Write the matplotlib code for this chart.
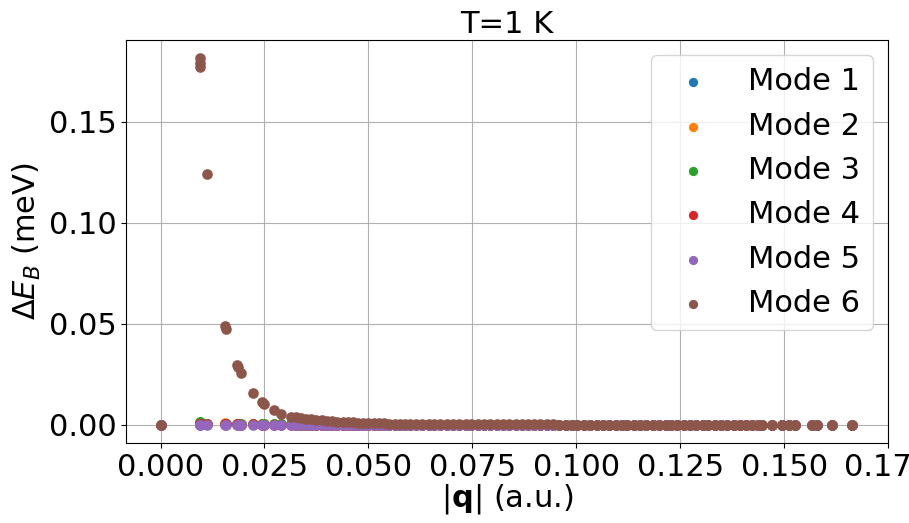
import matplotlib
matplotlib.use('Agg')
import matplotlib.pyplot as plt

# |q| точки (a.u.)
q_head = [0.0000, 0.0094, 0.0095, 0.0096, 0.0111, 0.0156, 0.0158, 0.0183,
          0.0187, 0.0193, 0.0222, 0.0243, 0.0249, 0.0272, 0.0289, 0.0313]
q_band = [0.0325, 0.0338, 0.0350, 0.0362, 0.0375, 0.0388, 0.0400, 0.0413,
          0.0425, 0.0438, 0.0450, 0.0463, 0.0475, 0.0488, 0.0500, 0.0513,
          0.0525, 0.0538, 0.0550, 0.0563, 0.0575, 0.0588, 0.0600,
          0.0614, 0.0628, 0.0645, 0.0659, 0.0673, 0.0690, 0.0704, 0.0719,
          0.0735, 0.0748, 0.0764, 0.0779, 0.0793, 0.0810, 0.0824, 0.0838,
          0.0855, 0.0869, 0.0884, 0.0899, 0.0913, 0.0930, 0.0944, 0.0958,
          0.0975, 0.0989, 0.1003, 0.1019, 0.1034, 0.1049, 0.1064, 0.1078,
          0.1095, 0.1109, 0.1123, 0.1139, 0.1154, 0.1169, 0.1184, 0.1198,
          0.1215, 0.1229, 0.1243, 0.1259, 0.1274, 0.1289, 0.1304, 0.1318,
          0.1335, 0.1349, 0.1363, 0.1379, 0.1394, 0.1409, 0.1424, 0.1437,
          0.1448, 0.1472, 0.1496, 0.1512, 0.1526, 0.1568, 0.1580, 0.1615,
          0.1663]
q = q_head + q_band

# Mode 6 - основной вклад
mode6_head = [0.0000, 0.1815, 0.1790, 0.1772, 0.1244, 0.0490, 0.0472, 0.0298,
              0.0288, 0.0256, 0.0155, 0.0113, 0.0100, 0.0074, 0.0055, 0.0040]
mode6_band = [0.0036, 0.0032, 0.0029, 0.0026, 0.0023, 0.0021, 0.0019, 0.0017,
              0.0015, 0.0013, 0.0012, 0.0011, 0.0010, 0.0009, 0.0008, 0.0007,
              0.0006, 0.0006, 0.0005, 0.0005, 0.0004, 0.0004, 0.0003,
              0.0003, 0.0003, 0.0003, 0.0002, 0.0002, 0.0002, 0.0002, 0.0002,
              0.0002, 0.0001, 0.0001, 0.0001, 0.0001, 0.0001, 0.0001, 0.0001,
              0.0001, 0.0001, 0.0001, 0.0001, 0.0001, 0.0001, 0.0001, 0.0000,
              0.0000, 0.0000, 0.0000, 0.0000, 0.0000, 0.0000, 0.0000, 0.0000,
              0.0000, 0.0000, 0.0000, 0.0000, 0.0000, 0.0000, 0.0000, 0.0000,
              0.0000, 0.0000, 0.0000, 0.0000, 0.0000, 0.0000, 0.0000, 0.0000,
              0.0000, 0.0000, 0.0000, 0.0000, 0.0000, 0.0000, 0.0000, 0.0000,
              0.0000, 0.0000, 0.0000, 0.0000, 0.0000, 0.0000, 0.0000, 0.0000,
              0.0000]

# Остальные моды почти ноль
mode1_head = [0.0, 0.0008, 0.0006, 0.0005, 0.0002, 0.0003, 0.0002, 0.0004,
              0.0005, 0.0003, 0.0002, 0.0003, 0.0004, 0.0005, 0.0003, 0.0002]
mode2_head = [0.0, 0.0006, 0.0005, 0.0004, 0.0002, 0.0007, 0.0005, 0.0003,
              0.0002, 0.0002, 0.0001, 0.0002, 0.0002, 0.0001, 0.0001, 0.0001]
mode3_head = [0.0, 0.0013, 0.0011, 0.0010, 0.0003, 0.0004, 0.0003, 0.0005,
              0.0003, 0.0002, 0.0002, 0.0002, 0.0001, 0.0002, 0.0001, 0.0001]
mode4_head = [0.0, 0.0002, 0.0002, 0.0001, 0.0001, 0.0001, 0.0001, 0.0001,
              0.0001, 0.0000, 0.0001, 0.0000, 0.0000, 0.0000, 0.0000, 0.0000]
mode5_head = [0.0, 0.0000, 0.0000, 0.0000, 0.0000, 0.0000, 0.0000, 0.0000,
              0.0000, 0.0000, 0.0000, 0.0000, 0.0000, 0.0000, 0.0000, 0.0000]
flat_band = [0.0] * len(q_band)

modes = [
    mode1_head + flat_band,
    mode2_head + flat_band,
    mode3_head + flat_band,
    mode4_head + flat_band,
    mode5_head + flat_band,
    mode6_head + mode6_band,
]
labels = ['Mode 1', 'Mode 2', 'Mode 3', 'Mode 4', 'Mode 5', 'Mode 6']

fs = 22

fig = plt.figure(figsize=(9.09, 5.23), dpi=100)
ax = fig.add_axes([126 / 909, 80 / 523, 762 / 909, 403 / 523])

for vals, lab in zip(modes, labels):
    ax.scatter(q, vals, s=44, label=lab, zorder=3)

ax.set_title('T=1 K', fontsize=fs, pad=5)
ax.set_xlabel(r'$|\mathbf{q}|$ (a.u.)', fontsize=fs, labelpad=0)
ax.set_ylabel(r'$\Delta E_B$ (meV)', fontsize=fs)
ax.tick_params(labelsize=fs)
ax.set_xticks([0.0, 0.025, 0.05, 0.075, 0.1, 0.125, 0.15, 0.175])
ax.set_xticklabels(['0.000', '0.025', '0.050', '0.075', '0.100', '0.125', '0.150', '0.175'])
ax.set_yticks([0.0, 0.05, 0.10, 0.15])
ax.set_yticklabels(['0.00', '0.05', '0.10', '0.15'])
ax.grid(True)
ax.set_axisbelow(True)
ax.legend(loc='upper right', fontsize=fs, markerscale=0.85)

plt.savefig('out.png', dpi=100)
plt.close()
